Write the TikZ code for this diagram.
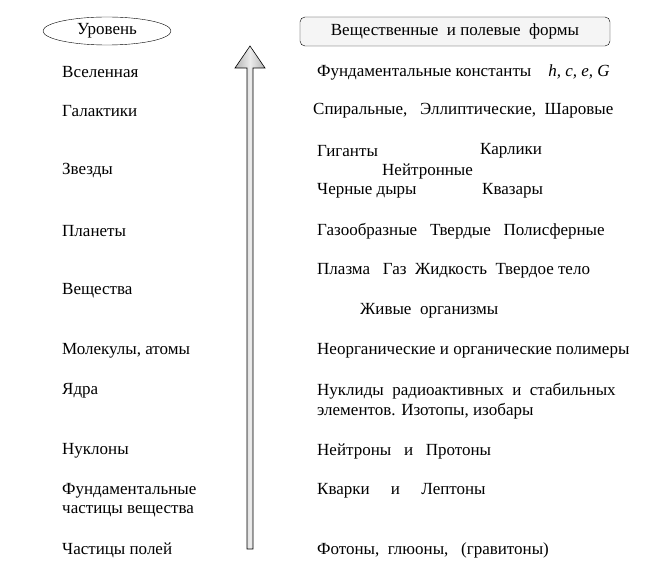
\documentclass[tikz,border=0pt]{standalone}
\usepackage{fontspec}
\usetikzlibrary{shapes.geometric}
\setmainfont{Liberation Serif}
\begin{document}
\begin{tikzpicture}[x=1pt,y=-1pt,
  t/.style={anchor=west,inner sep=0pt,font=\fontsize{17}{20}\selectfont},
  arr/.style={draw=black,line width=0.6pt,left color=gray!60,right color=gray!60,middle color=gray!15}]
\useasboundingbox (0,0) rectangle (655,564);
\node[draw,ellipse,minimum width=128pt,minimum height=28pt,inner sep=0pt,font=\fontsize{17}{20}\selectfont] (lev) at (107,31) {Уровень};
\node[draw,rounded corners=5pt,minimum width=310pt,minimum height=29pt,fill=gray!8,font=\fontsize{17}{20}\selectfont] (form) at (455,31.5) {Вещественные\ \ и полевые\ \ формы};
\coordinate (tip) at (250,46);
\coordinate (bot) at (250,549);
\path[arr] (247,549) -- (247,68) -- (235,68) -- (tip) -- (265,68) -- (253,68) -- (253,549) -- cycle;
\foreach \y/\s [count=\i] in {72/Вселенная,111/Галактики,171/Звезды,231/Планеты,291/Вещества,351/{Молекулы, атомы},391/Ядра,451/Нуклоны,491/Фундаментальные,511/частицы вещества,550/Частицы полей}
  \node[t] (l\i) at (62,\y) {\s};
\node[t] (r1) at (317,72) {Фундаментальные константы\ \ \ \ \textit{h, c, e, G}};
\node[t] (r2) at (313,111) {Спиральные,\ \ \ Эллиптические,\ \ Шаровые};
\node[t] (r3) at (317,151) {Гиганты};
\node[t] (r4) at (480,151) {Карлики};
\node[t] (r5) at (382,171) {Нейтронные};
\node[t] (r6) at (317,191) {Черные дыры};
\node[t] (r7) at (482,191) {Квазары};
\node[t] (r8) at (317,231) {Газообразные\ \ \ Твердые\ \ \ Полисферные};
\node[t] (r9) at (317,271) {Плазма\ \ \ Газ\ \ Жидкость\ \ Твердое тело};
\node[t] (r10) at (360,311) {Живые\ \ организмы};
\node[t] (r11) at (317,351) {Неорганические и органические полимеры};
\node[t] (r12) at (317,391) {Нуклиды\ \ радиоактивных\ \ и\ \ стабильных};
\node[t] (r13) at (317,411) {элементов. Изотопы, изобары};
\node[t] (r14) at (317,451) {Нейтроны\ \ \ и\ \ \ Протоны};
\node[t] (r15) at (317,491) {Кварки\ \ \ \ \ и\ \ \ \ \ Лептоны};
\node[t] (r16) at (317,550) {Фотоны,\ \ глюоны,\ \ \ (гравитоны)};
\end{tikzpicture}
\end{document}
